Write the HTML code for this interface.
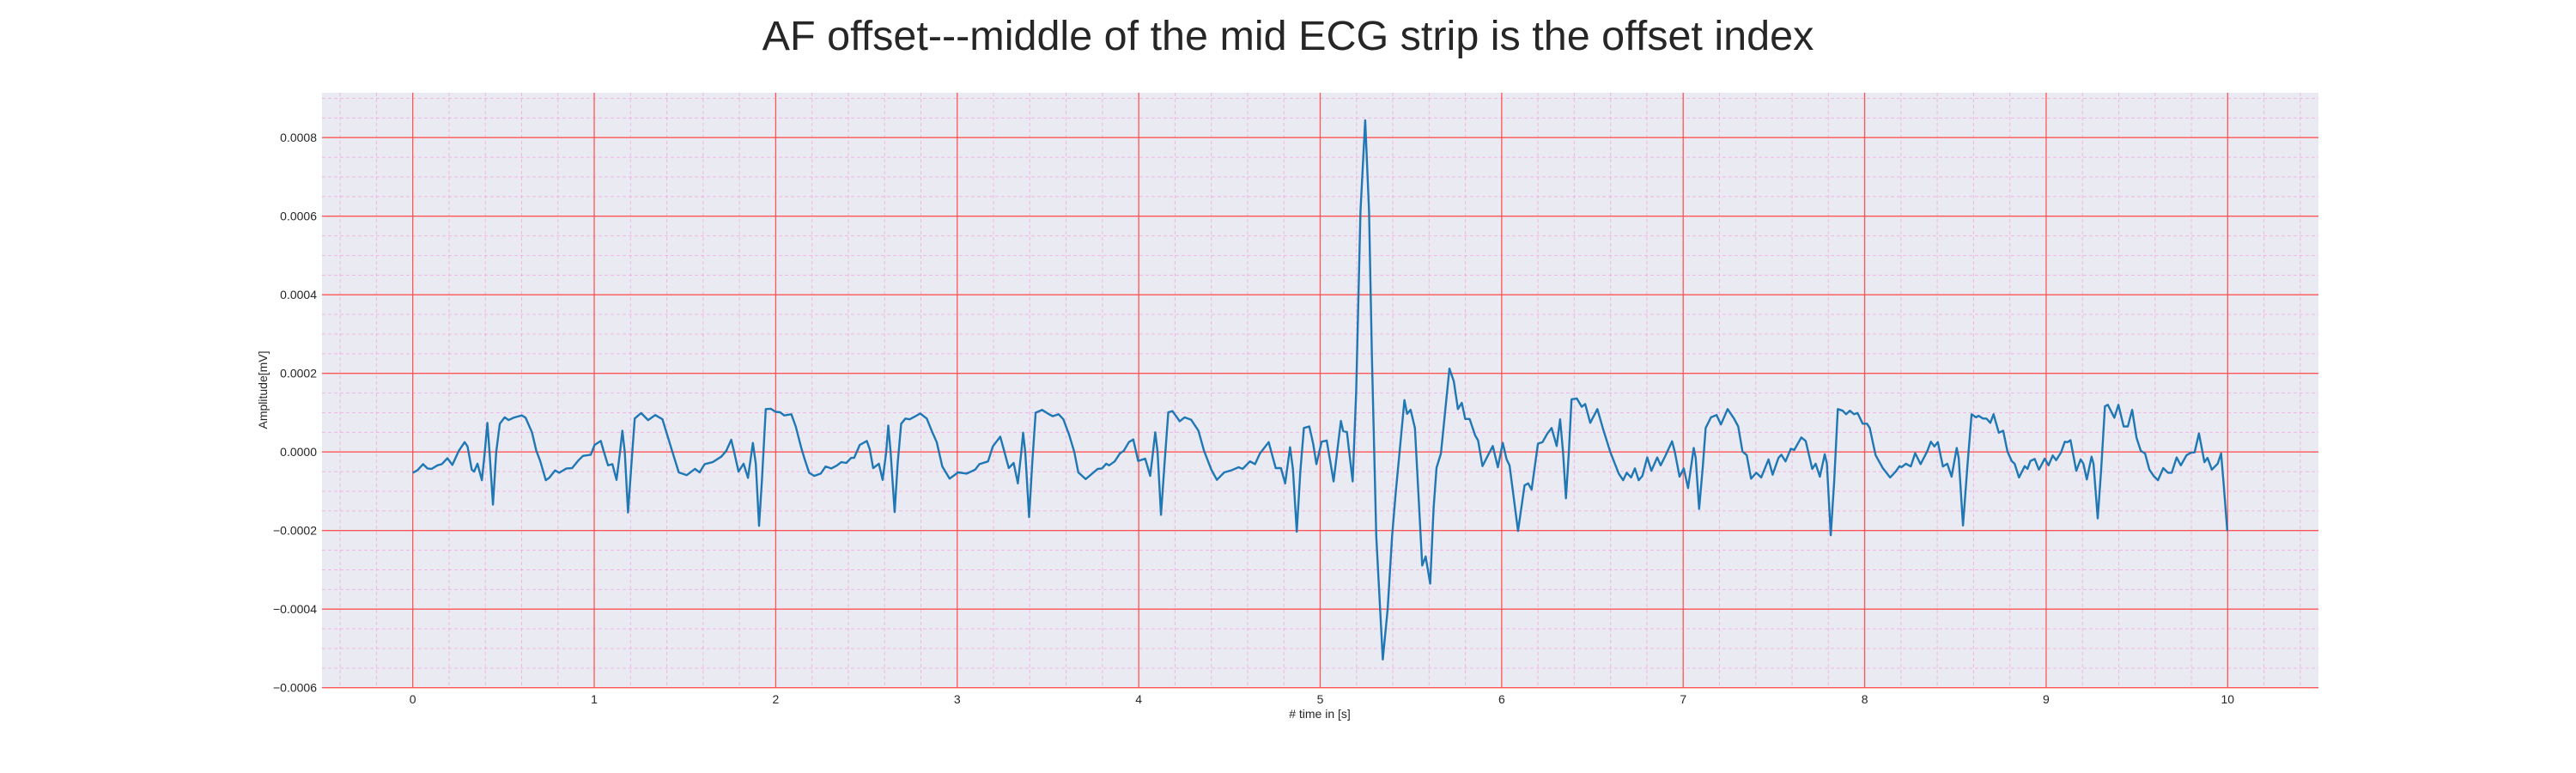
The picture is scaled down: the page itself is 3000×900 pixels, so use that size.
<!DOCTYPE html>
<html><head><meta charset="utf-8"><style>
html,body{margin:0;padding:0;background:#fff;width:3000px;height:900px;overflow:hidden}
text{font-family:"Liberation Sans",Arial,sans-serif;fill:#262626}
</style></head><body>
<svg id="chart" width="3000" height="900" xmlns="http://www.w3.org/2000/svg">
<text x="1500" y="58" font-size="48.5" text-anchor="middle">AF offset---middle of the mid ECG strip is the offset index</text>
<rect x="375" y="108" width="2325" height="692.7" fill="#eaeaf2"/>
<g id="grid"></g>
<g id="ticks"></g>
<path id="ecg" fill="none" stroke="#1f77b4" stroke-width="2.4" stroke-linejoin="round"/>
<text transform="translate(311,454) rotate(-90)" font-size="14" text-anchor="middle">Amplitude[mV]</text>
<text x="1537" y="836" font-size="14" text-anchor="middle"># time in [s]</text>
</svg>
<script>
const times=[0,0.025,0.057,0.081,0.104,0.136,0.16,0.191,0.218,0.254,0.286,0.302,0.325,0.338,0.357,0.381,0.397,0.411,0.423,0.442,0.46,0.48,0.507,0.528,0.555,0.578,0.602,0.622,0.657,0.681,0.702,0.733,0.752,0.784,0.807,0.847,0.878,0.91,0.938,0.981,1.002,1.036,1.049,1.076,1.1,1.123,1.142,1.155,1.168,1.186,1.205,1.223,1.258,1.297,1.336,1.376,1.431,1.466,1.51,1.555,1.581,1.608,1.652,1.7,1.728,1.755,1.771,1.795,1.823,1.847,1.874,1.89,1.908,1.924,1.945,1.972,2.0,2.024,2.047,2.086,2.11,2.141,2.16,2.184,2.212,2.248,2.275,2.306,2.338,2.361,2.389,2.416,2.432,2.463,2.502,2.518,2.537,2.568,2.589,2.609,2.62,2.633,2.655,2.672,2.691,2.715,2.738,2.77,2.796,2.832,2.863,2.887,2.918,2.958,3.005,3.052,3.099,3.122,3.17,3.196,3.237,3.256,3.284,3.311,3.334,3.353,3.363,3.375,3.396,3.413,3.432,3.468,3.499,3.526,3.559,3.585,3.617,3.645,3.667,3.708,3.774,3.798,3.821,3.837,3.868,3.896,3.918,3.946,3.97,3.997,4.036,4.063,4.079,4.091,4.104,4.123,4.142,4.163,4.186,4.226,4.253,4.289,4.329,4.36,4.4,4.431,4.471,4.51,4.55,4.573,4.613,4.641,4.668,4.716,4.755,4.784,4.807,4.834,4.85,4.871,4.89,4.91,4.94,4.961,4.979,5.008,5.036,5.074,5.114,5.127,5.147,5.179,5.198,5.222,5.248,5.269,5.285,5.309,5.345,5.372,5.396,5.416,5.435,5.464,5.479,5.498,5.522,5.543,5.562,5.581,5.606,5.625,5.641,5.665,5.712,5.736,5.759,5.78,5.799,5.823,5.854,5.87,5.894,5.924,5.951,5.979,6.006,6.027,6.043,6.09,6.126,6.146,6.165,6.2,6.225,6.252,6.275,6.303,6.322,6.338,6.354,6.37,6.385,6.414,6.441,6.46,6.488,6.527,6.559,6.598,6.645,6.669,6.689,6.713,6.734,6.755,6.775,6.802,6.825,6.857,6.876,6.904,6.939,6.954,6.98,7.003,7.027,7.058,7.069,7.088,7.108,7.124,7.153,7.184,7.208,7.245,7.28,7.303,7.327,7.35,7.374,7.403,7.43,7.47,7.493,7.525,7.541,7.564,7.593,7.612,7.651,7.675,7.711,7.73,7.753,7.78,7.792,7.813,7.832,7.852,7.879,7.898,7.918,7.942,7.961,7.989,8.013,8.028,8.06,8.1,8.14,8.171,8.192,8.203,8.227,8.254,8.278,8.308,8.344,8.365,8.384,8.403,8.431,8.455,8.479,8.507,8.518,8.542,8.566,8.589,8.613,8.628,8.652,8.671,8.692,8.71,8.739,8.763,8.787,8.81,8.826,8.85,8.882,8.897,8.913,8.937,8.96,8.992,9.013,9.036,9.055,9.082,9.103,9.118,9.134,9.166,9.19,9.205,9.224,9.25,9.261,9.284,9.303,9.324,9.34,9.376,9.398,9.427,9.45,9.474,9.498,9.521,9.545,9.569,9.592,9.616,9.645,9.671,9.692,9.719,9.742,9.774,9.798,9.818,9.842,9.872,9.889,9.913,9.945,9.964,9.979,9.998];
const amps=[-0.53,-0.47,-0.31,-0.42,-0.43,-0.34,-0.31,-0.16,-0.33,0.03,0.25,0.14,-0.45,-0.5,-0.3,-0.72,0,0.74,0,-1.34,0,0.72,0.88,0.81,0.87,0.9,0.93,0.87,0.5,0.03,-0.23,-0.72,-0.66,-0.47,-0.53,-0.42,-0.41,-0.23,-0.1,-0.07,0.18,0.28,0.07,-0.34,-0.31,-0.71,0,0.54,0,-1.54,-0.3,0.85,0.99,0.81,0.94,0.83,0,-0.52,-0.59,-0.43,-0.52,-0.31,-0.26,-0.12,0.03,0.31,0,-0.5,-0.3,-0.66,0.23,-0.3,-1.88,-0.74,1.09,1.1,1.02,1.01,0.93,0.96,0.65,0.1,-0.19,-0.53,-0.61,-0.55,-0.37,-0.42,-0.34,-0.26,-0.28,-0.15,-0.15,0.18,0.28,0.07,-0.41,-0.3,-0.71,0,0.67,0,-1.53,-0.3,0.72,0.85,0.83,0.91,0.98,0.85,0.5,0.25,-0.37,-0.68,-0.52,-0.55,-0.45,-0.31,-0.24,0.14,0.39,0.07,-0.41,-0.28,-0.8,0,0.49,0,-1.66,-0.3,1.0,1.07,0.98,0.91,0.96,0.83,0.43,0,-0.52,-0.69,-0.43,-0.42,-0.3,-0.34,-0.24,-0.04,0.03,0.25,0.32,-0.23,-0.17,-0.61,0,0.5,0,-1.6,-0.3,1.01,1.04,0.78,0.88,0.82,0.54,0.03,-0.45,-0.71,-0.52,-0.47,-0.39,-0.43,-0.24,-0.31,-0.04,0.25,-0.41,-0.41,-0.8,0.12,-0.45,-2.03,-0.52,0.61,0.65,0.21,-0.31,0.26,0.29,-0.75,0.79,0.53,0.51,-0.75,1.53,6.12,8.44,6.12,2.45,-2.15,-5.28,-3.99,-2.15,-1.05,-0.13,1.32,0.97,1.07,0.61,-1.23,-2.89,-2.66,-3.35,-1.42,-0.4,-0.04,2.12,1.8,1.09,1.25,0.84,0.84,0.42,0.29,-0.36,-0.09,0.15,-0.39,0.23,-0.19,-0.34,-2.01,-0.85,-0.8,-0.96,0.21,0.25,0.47,0.61,0.15,0.83,0,-1.18,0,1.34,1.36,1.15,1.22,0.74,1.09,0.58,0,-0.55,-0.72,-0.53,-0.65,-0.42,-0.72,-0.61,-0.14,-0.48,-0.14,-0.34,-0.08,0.27,0,-0.63,-0.42,-0.92,0.1,-0.15,-1.45,-0.37,0.61,0.88,0.94,0.7,1.09,0.85,0.65,0.01,-0.08,-0.68,-0.53,-0.65,-0.19,-0.58,-0.15,-0.07,-0.24,0.08,0.05,0.37,0.28,-0.43,-0.3,-0.63,-0.06,-0.3,-2.12,-0.74,1.09,1.05,0.96,1.05,0.96,0.99,0.72,0.72,0.61,-0.08,-0.41,-0.65,-0.5,-0.36,-0.39,-0.3,-0.37,-0.03,-0.31,0.01,0.26,0.14,0.25,-0.37,-0.3,-0.63,0.1,-0.15,-1.87,-0.37,0.96,0.88,0.92,0.85,0.85,0.74,0.96,0.49,0.54,0.01,-0.23,-0.3,-0.65,-0.36,-0.43,-0.23,-0.18,-0.45,-0.17,-0.34,-0.09,-0.21,-0.01,0.26,0.25,0.3,-0.48,-0.19,-0.3,-0.7,-0.12,-0.3,-1.69,-0.45,1.16,1.2,0.87,1.2,0.65,0.65,1.07,0.36,0.03,-0.04,-0.45,-0.61,-0.72,-0.41,-0.53,-0.53,-0.14,-0.34,-0.08,-0.02,-0.01,0.47,-0.26,-0.15,-0.45,-0.3,-0.04,-0.88,-2.01];
const xTickLabels=["0","1","2","3","4","5","6","7","8","9","10"];
const yTickLabels=["0.0008","0.0006","0.0004","0.0002","0.0000","\u22120.0002","\u22120.0004","\u22120.0006"];
const yTickValues=[0.0008,0.0006,0.0004,0.0002,0,-0.0002,-0.0004,-0.0006];

const L=375,R=2700,T=108,B=800.7,XMIN=-0.5,XMAX=10.5,YMIN=-0.0006,YMAX=0.0006+(B-T)/91.5*0.0002-0.0012;
function sx(t){return L+(t-XMIN)/(XMAX-XMIN)*(R-L);}
function sy(v){return B-(v-YMIN)/(YMAX-YMIN)*(B-T);}
const NS='http://www.w3.org/2000/svg';
const grid=document.getElementById('grid'),ticks=document.getElementById('ticks');
function line(x1,y1,x2,y2,stroke,w,dash,name,op){const l=document.createElementNS(NS,'line');
l.setAttribute('x1',x1);l.setAttribute('y1',y1);l.setAttribute('x2',x2);l.setAttribute('y2',y2);
l.setAttribute('stroke',stroke);l.setAttribute('stroke-width',w);if(dash)l.setAttribute('stroke-dasharray',dash);
if(op)l.setAttribute('stroke-opacity',op);


grid.appendChild(l);}
for(let i=-4;i<=104;i+=2){if(i%10===0)continue;const x=sx(i/10);line(x,T,x,B,'#f4a0dc',1,'4,3','minor-gridline-x',0.7);}
for(let k=-12;k<=19;k++){if(k%4===0)continue;const y=sy(k*0.00005);if(y<T||y>B)continue;line(L,y,R,y,'#f4a0dc',1,'4,3','minor-gridline-y',0.7);}
xTickLabels.forEach((lab,i)=>{const x=sx(+lab);line(x,T,x,B,'#f55',1.3,null,'major-gridline-x');
const t=document.createElementNS(NS,'text');t.setAttribute('x',x);t.setAttribute('y',819);t.setAttribute('font-size','14');t.setAttribute('text-anchor','middle');t.textContent=lab;


ticks.appendChild(t);});
yTickValues.forEach((v,i)=>{const y=sy(v);line(L,y,R,y,'#f55',1.3,null,'major-gridline-y');
const t=document.createElementNS(NS,'text');t.setAttribute('x',369);t.setAttribute('y',y+5);t.setAttribute('font-size','14');t.setAttribute('text-anchor','end');t.textContent=yTickLabels[i];


ticks.appendChild(t);});
let d='';times.forEach((t,i)=>{d+=(i?'L':'M')+sx(t).toFixed(1)+','+sy(amps[i]*1e-4).toFixed(1);});
document.getElementById('ecg').setAttribute('d',d);
</script>
</body></html>
